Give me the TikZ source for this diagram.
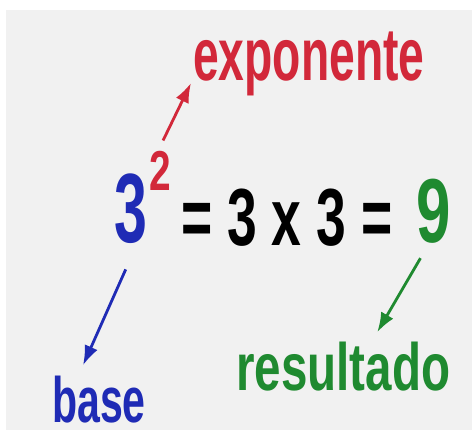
\documentclass[tikz,border=0pt]{standalone}
\usepackage{fontspec}
\setmainfont{Liberation Sans}
\usepackage{graphicx}
\usetikzlibrary{arrows.meta,calc}
\definecolor{basecol}{HTML}{1F2BB5}
\definecolor{expcol}{HTML}{D2283A}
\definecolor{rescol}{HTML}{1F8A30}
\definecolor{bgcol}{HTML}{F1F1F1}
\newcommand{\narrowtxt}[3]{\fontsize{#1}{#1}\selectfont\bfseries\scalebox{#2}[1]{#3}}

\begin{document}
\begin{tikzpicture}[x=0.025cm,y=-0.025cm,
		lbl/.style={inner sep=0pt,anchor=base west},
		ptr/.style={-{Latex[length=14pt,width=10pt]},line width=2pt}]
			\useasboundingbox (0,0) rectangle (472,434);
			\fill[bgcol] (6,10) rectangle (472,430);
			
			\node[lbl,text=expcol] (expo) at (193,80) {\narrowtxt{53}{0.62}{exponente}};
			\node[lbl,text=basecol] (three) at (114,242) {\narrowtxt{70}{0.6}{3}};
			\node[lbl,text=expcol] (sup) at (149,190) {\narrowtxt{40}{0.69}{2}};
			\node[lbl] (eq) at (181,245) {\narrowtxt{57.6}{0.66}{= 3 x 3 =}};
			\node[lbl,text=rescol] (nine) at (416,242) {\narrowtxt{64.6}{0.68}{9}};
			\node[lbl,text=basecol] (base) at (52,422) {\narrowtxt{45.6}{0.64}{base}};
			\node[lbl,text=rescol] (res) at (236,390) {\narrowtxt{47.6}{0.71}{resultado}};
			
			\draw[ptr,expcol] ($(sup.north)+(3,-10)$) -- ($(expo.base west)+(-2,3)$);
			\draw[ptr,basecol] ($(three.south)+(-5,26)$) -- ($(base.north)+(-16,-10)$);
			\draw[ptr,rescol] ($(nine.south)+(-13,15)$) -- ($(res.north)+(34,-9)$);
		\end{tikzpicture}
\end{document}
